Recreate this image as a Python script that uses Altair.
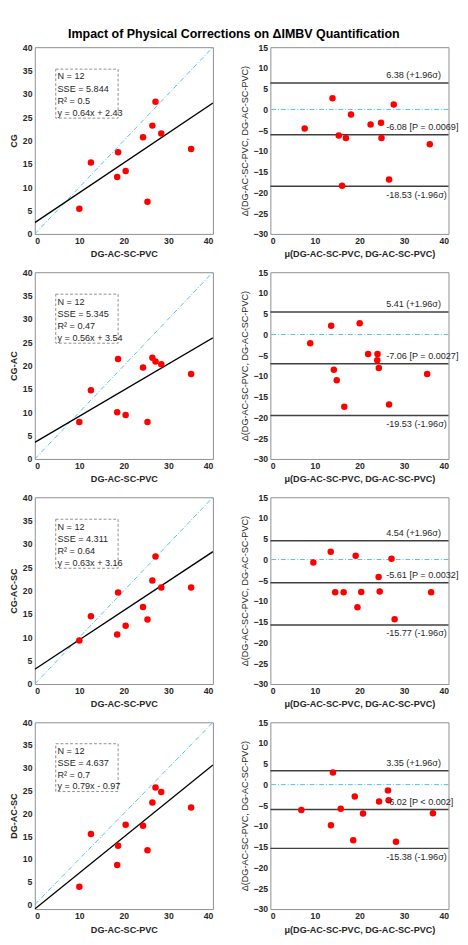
import altair as alt
import pandas as pd

# ---------------- data ----------------
dg_pvc = [10.0, 12.6, 18.5, 18.7, 20.4, 24.3, 25.3, 26.4, 27.1, 28.4, 35.1]
cg = [5.4, 15.3, 12.2, 17.5, 13.5, 20.7, 6.9, 23.2, 28.3, 21.5, 18.2]
cg_ac = [7.9, 14.7, 10.0, 21.4, 9.4, 19.6, 7.9, 21.7, 20.9, 20.3, 18.2]
cg_ac_sc = [9.3, 14.5, 10.6, 19.6, 12.5, 16.5, 13.8, 22.2, 27.3, 20.7, 20.7]
dg_ac_sc = [3.9, 15.5, 8.7, 12.9, 17.5, 17.3, 11.9, 22.4, 25.7, 24.7, 21.3]

method_names = ["CG", "CG-AC", "CG-AC-SC", "DG-AC-SC"]
method_values = [cg, cg_ac, cg_ac_sc, dg_ac_sc]
slopes = [0.64, 0.56, 0.63, 0.79]
intercepts = [2.43, 3.54, 3.16, -0.97]
fit_n = [12, 12, 12, 12]
fit_sse = ["5.844", "5.345", "4.311", "4.637"]
fit_r2 = ["0.5", "0.47", "0.64", "0.7"]
fit_eq = ["y = 0.64x + 2.43", "y = 0.56x + 3.54", "y = 0.63x + 3.16", "y = 0.79x - 0.97"]
y_min_left = [0, 0, 0, -1]

ba_mean = [
    [7.7, 13.95, 18.1, 15.35, 16.95, 22.5, 24.85, 27.7, 24.95, 16.1, 26.65, 35.8],
    [8.95, 13.65, 20.05, 14.25, 14.9, 16.6, 21.95, 24.05, 24.0, 24.35, 26.65, 35.2],
    [9.65, 13.55, 19.15, 14.55, 16.45, 20.4, 19.55, 24.3, 27.2, 24.55, 27.9, 36.1],
    [6.95, 14.05, 13.6, 15.8, 18.95, 20.8, 18.6, 24.4, 26.4, 26.55, 28.2, 36.5],
]
ba_diff = [
    [-4.6, 2.7, -1.2, -6.3, -6.9, -3.6, -3.2, 1.2, -6.9, -18.4, -16.9, -8.4],
    [-2.1, 2.1, 2.7, -8.5, -11.0, -17.4, -4.7, -4.7, -6.2, -8.1, -16.9, -9.5],
    [-0.7, 1.9, 0.9, -7.9, -7.9, -7.8, -11.5, -4.2, 0.2, -7.7, -14.4, -7.9],
    [-6.1, 2.9, -9.8, -5.8, -2.9, -7.0, -13.4, -4.1, -1.4, -3.8, -13.8, -6.9],
]
ba_upper = [6.38, 5.41, 4.54, 3.35]
ba_bias = [-6.08, -7.06, -5.61, -6.02]
ba_lower = [-18.53, -19.53, -15.77, -15.38]
ba_p = ["[P = 0.0069]", "[P = 0.0027]", "[P = 0.0032]", "[P < 0.002]"]

# annotation anchors (data space)
box_x = [4.7, 18.7]
box_y = [24.8, 35.3]
box_text_x = 5.1
box_text_y = [33.7, 31.1, 28.5, 25.9]
ba_text_x = 26.0

FONT = "Liberation Sans"
PW, PH = 186, 195
RED = "#ff0000"
CYAN = "#4dbeee"
LINE = "#404040"


def left_panel(i):
    xs = alt.Scale(domain=[0, 40], nice=False)
    ys = alt.Scale(domain=[y_min_left[i], 40], nice=False)
    xax = alt.Axis(values=[0, 10, 20, 30, 40], title="DG-AC-SC-PVC")
    yax = alt.Axis(values=[0, 5, 10, 15, 20, 25, 30, 35, 40], title=method_names[i])
    X = alt.X("x:Q", scale=xs, axis=xax)
    Y = alt.Y("y:Q", scale=ys, axis=yax)

    ident = pd.DataFrame({"x": [0, 40], "y": [0, 40]})
    fit = pd.DataFrame({"x": [0, 40],
                        "y": [intercepts[i], slopes[i] * 40 + intercepts[i]]})
    pts = pd.DataFrame({"x": dg_pvc, "y": method_values[i]})
    box = pd.DataFrame({"x": [box_x[0]], "x2": [box_x[1]],
                        "y": [box_y[0]], "y2": [box_y[1]]})
    txt = pd.DataFrame({"x": [box_text_x] * 4, "y": box_text_y,
                        "t": [f"N = {fit_n[i]}", f"SSE = {fit_sse[i]}",
                              f"R\u00b2 = {fit_r2[i]}", fit_eq[i]]})

    l_ident = alt.Chart(ident).mark_line(color=CYAN, strokeWidth=1,
                                         strokeDash=[5, 2, 1, 2], clip=True).encode(x=X, y=Y)
    l_fit = alt.Chart(fit).mark_line(color="black", strokeWidth=1.4, clip=True).encode(x=X, y=Y)
    l_pts = alt.Chart(pts).mark_circle(color=RED, size=46, opacity=1).encode(x=X, y=Y)
    l_box = alt.Chart(box).mark_rect(fill="white", fillOpacity=0, stroke="#8c8c8c",
                                     strokeWidth=1, strokeDash=[3, 2]).encode(
        x=X, x2="x2:Q", y=Y, y2="y2:Q")
    l_txt = alt.Chart(txt).mark_text(align="left", baseline="middle", font=FONT,
                                     fontSize=9.5, color="#262626").encode(
        x=X, y=Y, text="t:N")
    return alt.layer(l_ident, l_fit, l_pts, l_box, l_txt).properties(width=PW, height=PH)


def right_panel(i):
    xs = alt.Scale(domain=[0, 40], nice=False)
    ys = alt.Scale(domain=[-30, 15], nice=False)
    xax = alt.Axis(values=[0, 10, 20, 30, 40],
                   title="\u03bc(DG-AC-SC-PVC, DG-AC-SC-PVC)")
    yax = alt.Axis(values=list(range(-30, 16, 5)),
                   title="\u0394(DG-AC-SC-PVC, DG-AC-SC-PVC)",
                   titleFontWeight="normal")
    X = alt.X("x:Q", scale=xs, axis=xax)
    Y = alt.Y("y:Q", scale=ys, axis=yax)

    zero = pd.DataFrame({"y": [0]})
    lims = pd.DataFrame({"y": [ba_upper[i], ba_bias[i], ba_lower[i]]})
    pts = pd.DataFrame({"x": ba_mean[i], "y": ba_diff[i]})
    txt_above = pd.DataFrame({"x": [ba_text_x, ba_text_x],
                              "y": [ba_upper[i], ba_bias[i]],
                              "t": [f"{ba_upper[i]:.2f} (+1.96\u03c3)",
                                    f"{ba_bias[i]:.2f} {ba_p[i]}"]})
    txt_below = pd.DataFrame({"x": [ba_text_x], "y": [ba_lower[i]],
                              "t": [f"{ba_lower[i]:.2f} (-1.96\u03c3)"]})

    r_zero = alt.Chart(zero).mark_rule(color=CYAN, strokeWidth=1,
                                       strokeDash=[5, 2, 1, 2]).encode(y=Y)
    r_lims = alt.Chart(lims).mark_rule(color=LINE, strokeWidth=1.5).encode(y=Y)
    r_pts = alt.Chart(pts).mark_circle(color=RED, size=46, opacity=1).encode(x=X, y=Y)
    t_a = alt.Chart(txt_above).mark_text(align="left", baseline="bottom", dy=-3,
                                         font=FONT, fontSize=9.5, color="#262626").encode(
        x=X, y=Y, text="t:N")
    t_b = alt.Chart(txt_below).mark_text(align="left", baseline="top", dy=4,
                                         font=FONT, fontSize=9.5, color="#262626").encode(
        x=X, y=Y, text="t:N")
    return alt.layer(r_zero, r_lims, r_pts, t_a, t_b).properties(width=PW, height=PH)


rows = [alt.hconcat(left_panel(i), right_panel(i), spacing=26) for i in range(4)]

chart = alt.vconcat(*rows, spacing=9).properties(
    title=alt.TitleParams("Impact of Physical Corrections on \u0394IMBV Quantification",
                          font=FONT, fontSize=13, fontWeight="bold", anchor="middle",
                          color="black", offset=2),
    padding={"left": 0, "top": 0, "right": 0, "bottom": 0},
).configure_axis(
    labelFont=FONT, labelFontSize=9, labelFontWeight="bold", labelColor="#262626",
    labelOverlap=False,
    titleFont=FONT, titleFontSize=9.5, titleFontWeight="bold", titleColor="#262626",
    grid=False, ticks=False, domain=False,
    labelPadding=3, titlePadding=4,
).configure_view(
    stroke="#8c8c8c", strokeWidth=1
)

chart.save("out.html", embed_options={"renderer": "svg", "actions": False})
